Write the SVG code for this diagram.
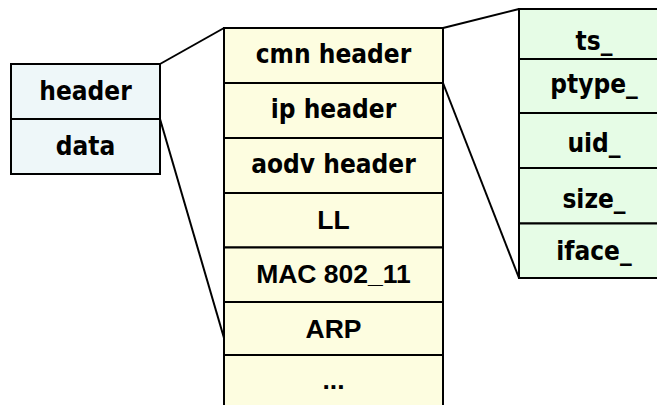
<svg xmlns="http://www.w3.org/2000/svg" width="657" height="405" viewBox="0 0 657 405">
  <style>
    .box { stroke: #000; stroke-width: 2; }
    .pkt { fill: #eef7f9; }
    .hdr { fill: #fdfde0; }
    .fld { fill: #e6fce6; }
    .v { font-family: "DejaVu Sans Condensed", "DejaVu Sans", Verdana, sans-serif; font-stretch: condensed; font-weight: bold; font-size: 26px; text-anchor: middle; fill: #000; }
    .a { font-family: "Liberation Sans", Arial, sans-serif; font-weight: bold; font-size: 26.5px; text-anchor: middle; fill: #000; }
    .conn { stroke: #000; stroke-width: 2; fill: none; }
  </style>
  <rect width="657" height="405" fill="#fff"/>

  <!-- zoom lines between the three layers -->
  <g id="connectors">
    <line class="conn" x1="160" y1="64" x2="224" y2="28"/>
    <line class="conn" x1="160" y1="119" x2="224" y2="338"/>
    <line class="conn" x1="443" y1="28" x2="519" y2="9"/>
    <line class="conn" x1="443" y1="83" x2="519" y2="278"/>
  </g>

  <!-- packet: header + data -->
  <g id="packet">
    <rect class="box pkt" x="11" y="64" width="149" height="55"/>
    <rect class="box pkt" x="11" y="119" width="149" height="55"/>
    <text class="v" x="85.5" y="100">header</text>
    <text class="v" x="85.5" y="155">data</text>
  </g>

  <!-- header stack -->
  <g id="header-stack">
    <rect class="box hdr" x="224" y="28" width="219" height="55"/>
    <rect class="box hdr" x="224" y="83" width="219" height="55"/>
    <rect class="box hdr" x="224" y="138" width="219" height="55"/>
    <rect class="box hdr" x="224" y="193" width="219" height="54.5"/>
    <rect class="box hdr" x="224" y="247.5" width="219" height="54.5"/>
    <rect class="box hdr" x="224" y="302" width="219" height="53"/>
    <rect class="box hdr" x="224" y="355" width="219" height="60"/>
    <text class="v" x="333.5" y="63">cmn header</text>
    <text class="v" x="333.5" y="118">ip header</text>
    <text class="v" x="333.5" y="173">aodv header</text>
    <text class="a" x="333.5" y="229">LL</text>
    <text class="a" x="333.5" y="283">MAC 802_11</text>
    <text class="a" x="333.5" y="338">ARP</text>
    <text class="a" x="333.5" y="389">...</text>
  </g>

  <!-- common header fields -->
  <g id="cmn-fields">
    <rect class="box fld" x="519" y="9" width="150" height="50"/>
    <rect class="box fld" x="519" y="59" width="150" height="54"/>
    <rect class="box fld" x="519" y="113" width="150" height="55"/>
    <rect class="box fld" x="519" y="168" width="150" height="55.5"/>
    <rect class="box fld" x="519" y="223.5" width="150" height="54.5"/>
    <text class="v" x="594" y="50">ts_</text>
    <text class="v" x="594" y="93">ptype_</text>
    <text class="v" x="594" y="152">uid_</text>
    <text class="v" x="594" y="208">size_</text>
    <text class="v" x="594" y="260">iface_</text>
  </g>
</svg>
